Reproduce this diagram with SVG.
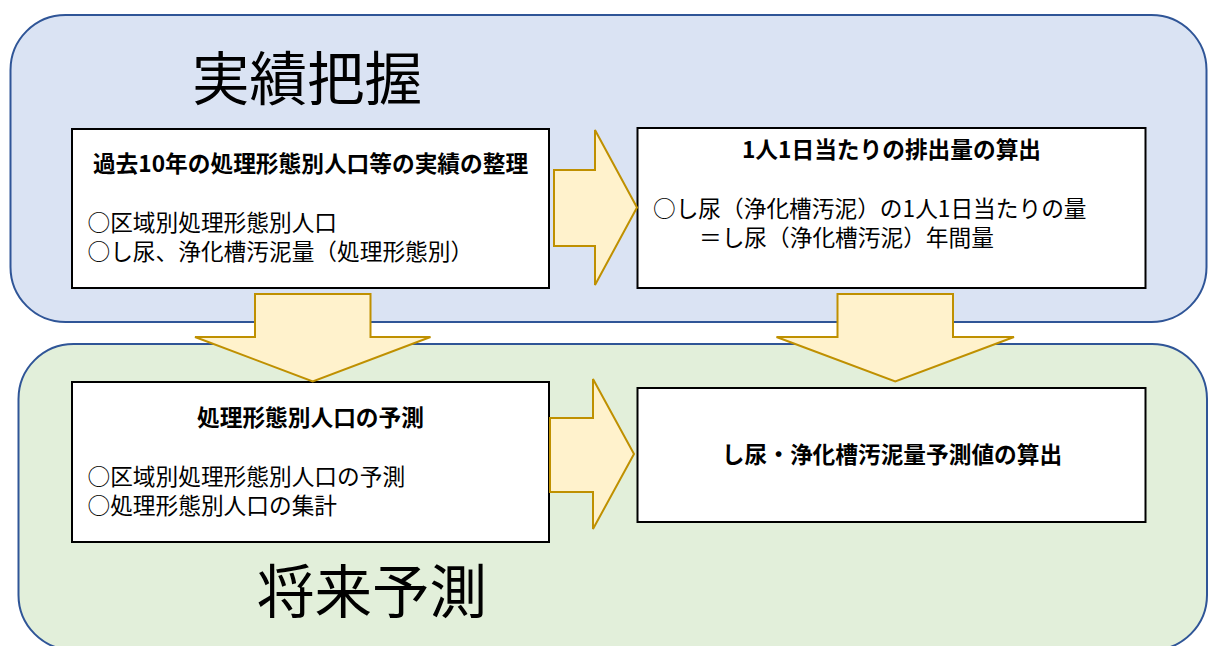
<svg xmlns="http://www.w3.org/2000/svg" width="1208" height="646" viewBox="0 0 1208 646">
<style>
text{font-family:"Noto Sans CJK JP","Noto Sans",sans-serif;fill:#000}
.big{font-size:57.5px;text-anchor:middle}
.t{font-size:22.7px;font-weight:bold;text-anchor:middle}
.b{font-size:22.7px}
.box{fill:#fff;stroke:#000;stroke-width:2}
.arr{fill:#FFF2CC;stroke:#BF9000;stroke-width:2;stroke-linejoin:miter}
</style>
<g id="phase-actual">
<rect x="10.5" y="15" width="1196" height="307" rx="55" ry="55" fill="#DAE3F3" stroke="#2F5597" stroke-width="2"/>
<text class="big" x="307" y="99.5">実績把握</text>
</g>
<g id="phase-forecast">
<rect x="18.5" y="344" width="1188.5" height="306" rx="55" ry="55" fill="#E2EFDA" stroke="#2F5597" stroke-width="2"/>
<text class="big" x="372" y="613">将来予測</text>
</g>
<g id="node-past">
<rect class="box" x="72" y="129" width="477" height="159"/>
<text class="t" x="310.5" y="172">過去10年の処理形態別人口等の実績の整理</text>
<text class="b" x="87.5" y="231">○区域別処理形態別人口</text>
<text class="b" x="87.5" y="260">○し尿、浄化槽汚泥量（処理形態別）</text>
</g>
<g id="node-perday">
<rect class="box" x="637.5" y="128" width="508" height="160"/>
<text class="t" x="891.5" y="158">1人1日当たりの排出量の算出</text>
<text class="b" x="653" y="217">○し尿（浄化槽汚泥）の1人1日当たりの量</text>
<text class="b" x="699" y="246">＝し尿（浄化槽汚泥）年間量</text>
</g>
<g id="node-population">
<rect class="box" x="72" y="382" width="477" height="160"/>
<text class="t" x="310.5" y="426">処理形態別人口の予測</text>
<text class="b" x="87.5" y="485">○区域別処理形態別人口の予測</text>
<text class="b" x="87.5" y="514">○処理形態別人口の集計</text>
</g>
<g id="node-result">
<rect class="box" x="637.5" y="388" width="508" height="134"/>
<text class="t" x="892" y="463">し尿・浄化槽汚泥量予測値の算出</text>
</g>
<g id="connectors">
<polygon class="arr" points="554,170 595,170 595,130 637,207.5 595,285 595,246 554,246"/>
<polygon class="arr" points="550,418 593,418 593,379 634,454 593,529 593,492 550,492"/>
<polygon class="arr" points="255,294 370.5,294 370.5,337 430.5,337 312.75,381.5 195,337 255,337"/>
<polygon class="arr" points="837.5,294 953,294 953,337 1014,337 895.25,381.5 776.5,337 837.5,337"/>
</g>
</svg>
